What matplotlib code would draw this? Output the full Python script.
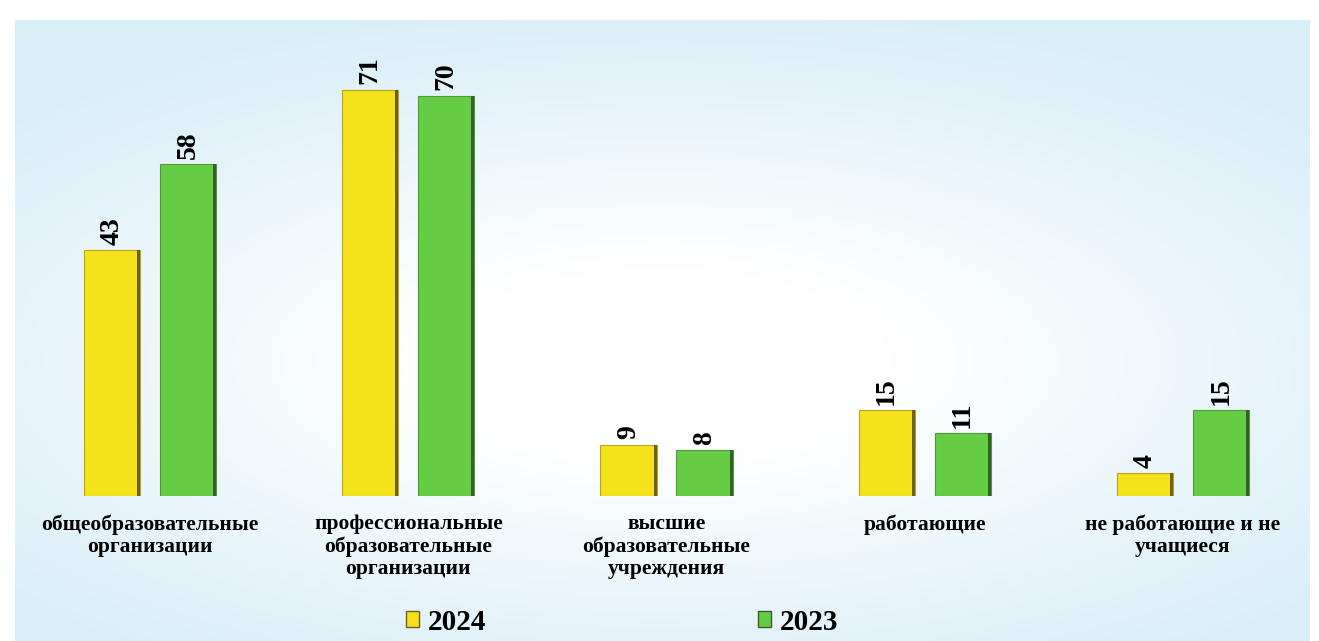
import numpy as np
import matplotlib
matplotlib.use("Agg")
import matplotlib.pyplot as plt
from matplotlib.patches import Patch

# данные
categories = ["общеобразовательные\nорганизации",
              "профессиональные\nобразовательные\nорганизации",
              "высшие\nобразовательные\nучреждения",
              "работающие",
              "не работающие и не\nучащиеся"]
vals_2024 = [43, 71, 9, 15, 4]
vals_2023 = [58, 70, 8, 11, 15]
years = ["2024", "2023"]

yellow = "#f4e31a"
yellow_edge = "#b8a420"
yellow_dark = "#6e6020"
green = "#66cc44"
green_edge = "#4f9a38"
green_dark = "#365f2c"

W, H = 1319, 641
fig = plt.figure(figsize=(W / 100, H / 100), dpi=100)
fig.patch.set_facecolor("white")

# фон: светло-голубая рамка с белым центром
bg = fig.add_axes([15 / W, 0, 1295 / W, 621 / H])
gx, gy = np.meshgrid(np.linspace(-1, 1, 300), np.linspace(-1, 1, 150))
d = np.sqrt((gx * 0.85) ** 2 + ((gy - 0.1) * 1.0) ** 2)
t = np.clip((d - 0.3) / 0.85, 0, 1)
c0 = np.array([1.0, 1.0, 1.0])
c1 = np.array([0.85, 0.935, 0.97])
img = c0[None, None, :] * (1 - t[..., None]) + c1[None, None, :] * t[..., None]
bg.imshow(img, aspect="auto", extent=[0, 1, 0, 1])
bg.axis("off")

ax = fig.add_axes([21 / W, 145 / H, 1291 / W, 466 / H])
ax.set_facecolor("none")
x = np.arange(len(categories))
w = 0.218
off = 0.147
s = 0.012
b1 = ax.bar(x - off, vals_2024, w, color=yellow, edgecolor=yellow_edge, linewidth=0.8)
b2 = ax.bar(x + off, vals_2023, w, color=green, edgecolor=green_edge, linewidth=0.8)
# тёмная грань справа
ax.bar(x - off + w / 2 - s / 2, vals_2024, s, color=yellow_dark, linewidth=0)
ax.bar(x + off + w / 2 - s / 2, vals_2023, s, color=green_dark, linewidth=0)

for bars, vals in ((b1, vals_2024), (b2, vals_2023)):
    for b, v in zip(bars, vals):
        ax.annotate(str(v), (b.get_x() + b.get_width() / 2, b.get_height()),
                    xytext=(0, 4), textcoords="offset points",
                    ha="center", va="bottom", rotation=90,
                    fontsize=20, fontweight="bold", family="Liberation Serif")

ax.set_xlim(-0.5, len(categories) - 0.5)
ax.set_ylim(0, 81.5)
ax.set_xticks(x)
ax.set_xticklabels(categories, fontsize=15.5, fontweight="bold",
                   family="Liberation Serif", linespacing=1.15)
ax.tick_params(axis="x", length=0, pad=13)
ax.set_yticks([])
for sp in ax.spines.values():
    sp.set_visible(False)

handles = [Patch(facecolor=yellow, edgecolor=yellow_dark),
           Patch(facecolor=green, edgecolor=green_dark)]
fig.legend(handles, years, loc="center", bbox_to_anchor=(622 / W, 19 / H),
           ncol=2, frameon=False, handlelength=0.45, handleheight=0.45,
           handletextpad=0.3, columnspacing=9.3,
           prop={"family": "Liberation Serif", "weight": "bold", "size": 21})

fig.savefig("out.png", dpi=100)
